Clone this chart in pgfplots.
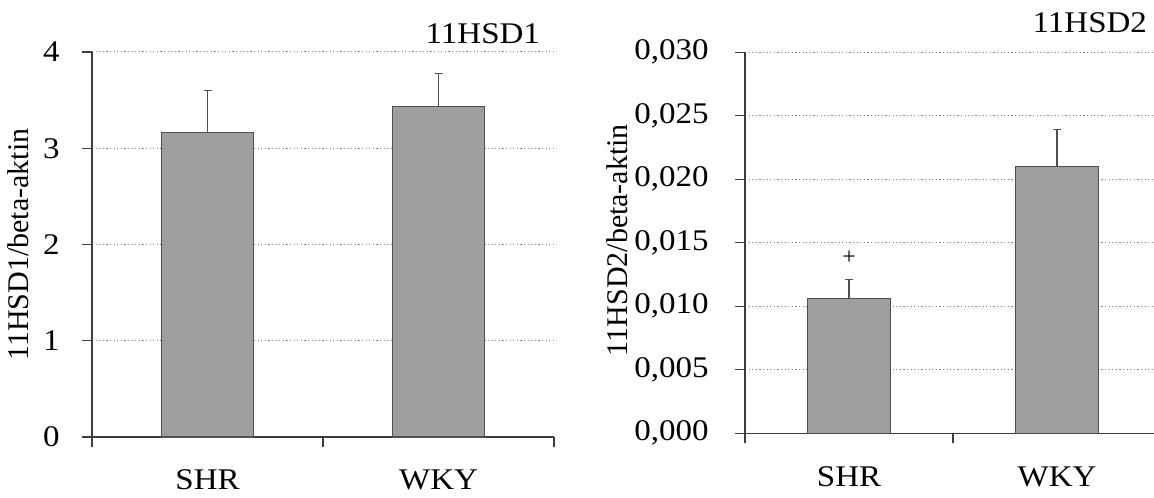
\documentclass[border=0pt]{standalone}
\usepackage{fontspec}
\setmainfont{Liberation Serif}
\newfontfamily\wide{Liberation Serif}[FakeStretch=1.1]
\usepackage{pgfplots}
\pgfplotsset{compat=1.18}

\definecolor{barfill}{RGB}{158,158,158}
\definecolor{baredge}{RGB}{80,80,80}
\definecolor{axisc}{RGB}{60,60,60}

\pgfplotsset{
  hsd/.style={
    scale only axis, anchor=south west,
    axis lines*=left,
    axis line style={draw=axisc, line width=0.6pt},
    xmin=-0.5, ymin=0,
    xtick={-0.5,0.5,1.5}, xticklabels={},
    extra x ticks={0,1}, extra x tick labels={SHR,WKY},
    extra x tick style={major tick length=0pt},
    tick align=outside,
    major tick length=5pt,
    tick style={draw=axisc, line width=0.6pt},
    ymajorgrids,
    major grid style={draw=gray, line width=0.5pt, dash pattern=on 0.6pt off 1.2pt},
    ybar, bar width=0.4,
    /pgf/number format/assume math mode=true,
    tick label style={font=\wide\fontsize{15}{18}\selectfont},
    label style={font=\fontsize{15}{18}\selectfont},
    xticklabel style={anchor=base, inner sep=0pt, yshift=-26.5pt},
    clip=false,
  },
  hsdbar/.style={
    fill=barfill, draw=baredge, line width=0.6pt,
    error bars/.cd, y dir=plus, y explicit,
    error bar style={draw=baredge, line width=0.6pt},
    error mark options={rotate=90, draw=baredge, line width=0.6pt, mark size=2pt},
  },
}

\begin{document}
\begin{tikzpicture}
\useasboundingbox (0,0) rectangle (577pt,248.5pt);

% 11HSD1
\begin{axis}[hsd,
    at={(46pt,30pt)}, width=231pt, height=192.5pt,
    xmax=1.5, ymax=4, ytick={0,1,2,3,4},
    yticklabel style={anchor=east, inner sep=0pt, xshift=-11pt},
    ylabel={11HSD1/beta-aktin},
    ylabel style={at={(axis description cs:-0.16,0.5)}, anchor=center},
  ]
\addplot[hsdbar] coordinates {(0,3.16) +- (0,0.44) (1,3.43) +- (0,0.35)};
\node[anchor=base east, font=\wide\fontsize{15}{18}\selectfont]
  at (rel axis cs:1,1) [xshift=-3.5pt, yshift=4pt] {11HSD1};
\end{axis}

% 11HSD2
\begin{axis}[hsd,
    at={(372.5pt,31.85pt)}, width=204.5pt, height=190.5pt,
    xmax=1.466, ymax=0.03,
    ytick={0,0.005,0.01,0.015,0.02,0.025,0.03},
    scaled y ticks=false,
    yticklabel style={anchor=east, inner sep=0pt, xshift=-13pt,
      /pgf/number format/.cd, fixed, fixed zerofill, precision=3, use comma},
    ylabel={11HSD2/beta-aktin},
    ylabel style={at={(axis description cs:-0.312,0.507)}, anchor=center},
  ]
\addplot[hsdbar] coordinates {(0,0.0106) +- (0,0.0015) (1,0.0210) +- (0,0.0029)};
\node[font=\fontsize{12}{14}\selectfont] at (axis cs:0,0.0138) {+};
\node[anchor=base east, font=\wide\fontsize{15}{18}\selectfont]
  at (rel axis cs:1,1) [xshift=0pt, yshift=10pt] {11HSD2};
\end{axis}
\end{tikzpicture}
\end{document}
